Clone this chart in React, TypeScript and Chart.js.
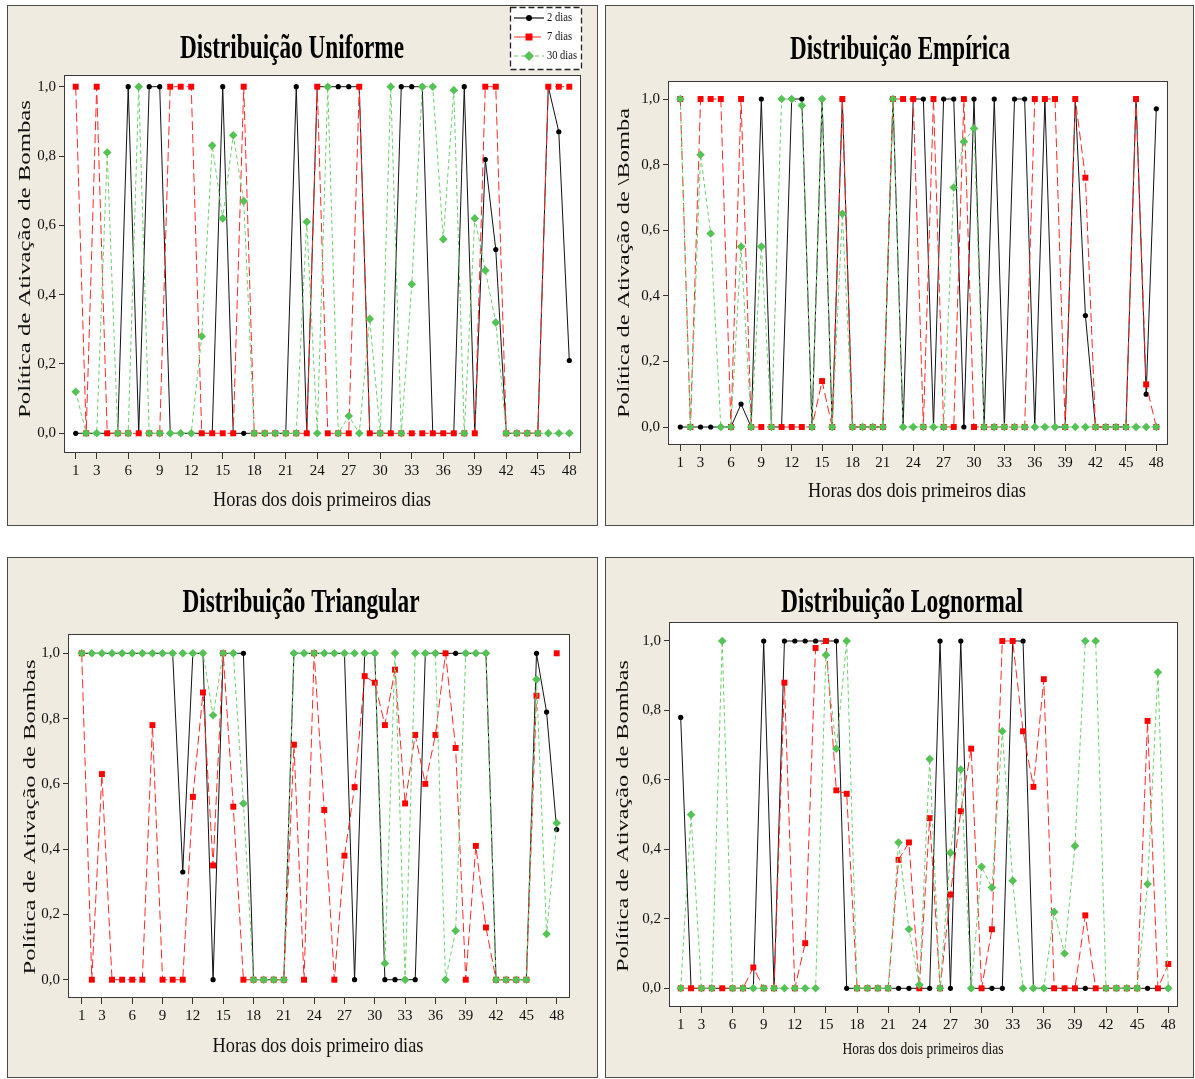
import React, { useEffect, useRef } from 'react';
import { Chart, registerables } from 'chart.js';

Chart.register(...registerables);

// ---------------- DATA ----------------
const hours = [1, 2, 3, 4, 5, 6, 7, 8, 9, 10, 11, 12, 13, 14, 15, 16, 17, 18, 19, 20, 21, 22, 23, 24,
  25, 26, 27, 28, 29, 30, 31, 32, 33, 34, 35, 36, 37, 38, 39, 40, 41, 42, 43, 44, 45, 46, 47, 48];
const xTickValues = [1, 3, 6, 9, 12, 15, 18, 21, 24, 27, 30, 33, 36, 39, 42, 45, 48];
const yTickValues = [0, 0.2, 0.4, 0.6, 0.8, 1.0];
const seriesLabels = ['2 dias', '7 dias', '30 dias'];

// Distribuição Uniforme
const uniforme2 = [0, 0, 0, 0, 0, 1, 0, 1, 1, 0, 0, 0, 0, 0, 1, 0, 0, 0, 0, 0, 0, 1, 0, 1,
  1, 1, 1, 1, 0, 0, 0, 1, 1, 1, 0, 0, 0, 1, 0, 0.79, 0.53, 0, 0, 0, 0, 1, 0.87, 0.21];
const uniforme7 = [1, 0, 1, 0, 0, 0, 0, 0, 0, 1, 1, 1, 0, 0, 0, 0, 1, 0, 0, 0, 0, 0, 0, 1,
  0, 0, 0, 1, 0, 0, 0, 0, 0, 0, 0, 0, 0, 0, 0, 1, 1, 0, 0, 0, 0, 1, 1, 1];
const uniforme30 = [0.12, 0, 0, 0.81, 0, 0, 1, 0, 0, 0, 0, 0, 0.28, 0.83, 0.62, 0.86, 0.67, 0, 0, 0, 0, 0, 0.61, 0,
  1, 0, 0.05, 0, 0.33, 0, 1, 0, 0.43, 1, 1, 0.56, 0.99, 0, 0.62, 0.47, 0.32, 0, 0, 0, 0, 0, 0, 0];

// Distribuição Empírica
const empirica2 = [0, 0, 0, 0, 0, 0, 0.07, 0, 1, 0, 0, 1, 1, 0, 1, 0, 1, 0, 0, 0, 0, 1, 0, 1,
  1, 0, 1, 1, 0, 1, 0, 1, 0, 1, 1, 0, 1, 0, 0, 1, 0.34, 0, 0, 0, 0, 1, 0.1, 0.97];
const empirica7 = [1, 0, 1, 1, 1, 0, 1, 0, 0, 0, 0, 0, 0, 0, 0.14, 0, 1, 0, 0, 0, 0, 1, 1, 1,
  0, 1, 0, 0, 1, 0, 0, 0, 0, 0, 0, 1, 1, 1, 0, 1, 0.76, 0, 0, 0, 0, 1, 0.13, 0];
const empirica30 = [1, 0, 0.83, 0.59, 0, 0, 0.55, 0, 0.55, 0, 1, 1, 0.98, 0, 1, 0, 0.65, 0, 0, 0, 0, 1, 0, 0,
  0, 0, 0, 0.73, 0.87, 0.91, 0, 0, 0, 0, 0, 0, 0, 0, 0, 0, 0, 0, 0, 0, 0, 0, 0, 0];

// Distribuição Triangular
const triangular2 = [1, 1, 1, 1, 1, 1, 1, 1, 1, 1, 0.33, 1, 1, 0, 1, 1, 1, 0, 0, 0, 0, 1, 1, 1,
  1, 1, 1, 0, 1, 1, 0, 0, 0, 0, 1, 1, 1, 1, 1, 1, 1, 0, 0, 0, 0, 1, 0.82, 0.46];
const triangular7 = [1, 0, 0.63, 0, 0, 0, 0, 0.78, 0, 0, 0, 0.56, 0.88, 0.35, 1, 0.53, 0, 0, 0, 0, 0, 0.72, 0, 1,
  0.52, 0, 0.38, 0.59, 0.93, 0.91, 0.78, 0.95, 0.54, 0.75, 0.6, 0.75, 1, 0.71, 0, 0.41, 0.16, 0, 0, 0, 0, 0.87, null, 1];
const triangular30 = [1, 1, 1, 1, 1, 1, 1, 1, 1, 1, 1, 1, 1, 0.81, 1, 1, 0.54, 0, 0, 0, 0, 1, 1, 1,
  1, 1, 1, 1, 1, 1, 0.05, 1, 0, 1, 1, 1, 0, 0.15, 1, 1, 1, 0, 0, 0, 0, 0.92, 0.14, 0.48];

// Distribuição Lognormal
const lognormal2 = [0.78, 0, 0, 0, 0, 0, 0, 0, 1, 0, 1, 1, 1, 1, 1, 1, 0, 0, 0, 0, 0, 0, 0, 0,
  0, 1, 0, 1, 0, 0, 0, 0, 1, 1, 0, 0, 0, 0, 0, 0, 0, 0, 0, 0, 0, 0, 0, 0];
const lognormal7 = [0, 0, 0, 0, 0, 0, 0, 0.06, 0, 0, 0.88, 0, 0.13, 0.98, 1, 0.57, 0.56, 0, 0, 0, 0, 0.37, 0.42, 0,
  0.49, 0, 0.27, 0.51, 0.69, 0, 0.17, 1, 1, 0.74, 0.58, 0.89, 0, 0, 0, 0.21, 0, 0, 0, 0, 0, 0.77, 0, 0.07];
const lognormal30 = [0, 0.5, 0, 0, 1, 0, 0, 0, 0, 0, 0, 0, 0, 0, 0.96, 0.69, 1, 0, 0, 0, 0, 0.42, 0.17, 0.01,
  0.66, 0, 0.39, 0.63, 0, 0.35, 0.29, 0.74, 0.31, 0, 0, 0, 0.22, 0.1, 0.41, 1, 1, 0, 0, 0, 0, 0.3, 0.91, 0];

// ---------------- LAYOUT / STYLE ----------------
const BG = '#efebe1';
const SERIF = "'Liberation Serif', 'Times New Roman', serif";

const panels = [
  {
    title: 'Distribuição Uniforme',
    xTitle: 'Horas dos dois primeiros dias',
    yTitle: 'Política de Ativação de Bombas',
    series: [uniforme2, uniforme7, uniforme30],
    box: { x: 7, y: 5, w: 591, h: 521 },
    plot: { l: 64, t: 75, r: 581, b: 453 },
    px: { x1: 75.7, x48: 569.3, y1: 86.7, y0: 433.3 },
    titlePos: { cx: 292, base: 58, w: 224 },
    xTitlePos: { cx: 322, base: 506, w: 218, size: 22 },
    yTitlePos: { cx: 25, cy: 259, len: 318 },
    legend: { x: 510, y: 7, w: 72, h: 63 },
  },
  {
    title: 'Distribuição Empírica',
    xTitle: 'Horas dos dois primeiros dias',
    yTitle: 'Política de Ativação de \\Bomba',
    series: [empirica2, empirica7, empirica30],
    box: { x: 605, y: 5, w: 589, h: 521 },
    plot: { l: 668, t: 81, r: 1168, b: 445 },
    px: { x1: 680.3, x48: 1156.3, y1: 99, y0: 427 },
    titlePos: { cx: 900, base: 59, w: 220 },
    xTitlePos: { cx: 917, base: 497, w: 218, size: 22 },
    yTitlePos: { cx: 624, cy: 263, len: 310 },
    legend: null,
  },
  {
    title: 'Distribuição Triangular',
    xTitle: 'Horas dos dois primeiro dias',
    yTitle: 'Política de Ativação de Bombas',
    series: [triangular2, triangular7, triangular30],
    box: { x: 7, y: 557, w: 591, h: 521 },
    plot: { l: 68, t: 634, r: 570, b: 998 },
    px: { x1: 81.7, x48: 556.7, y1: 653.3, y0: 979.7 },
    titlePos: { cx: 301, base: 612, w: 237 },
    xTitlePos: { cx: 318, base: 1052, w: 211, size: 22 },
    yTitlePos: { cx: 30, cy: 817, len: 315 },
    legend: null,
  },
  {
    title: 'Distribuição Lognormal',
    xTitle: 'Horas dos dois primeiros dias',
    yTitle: 'Política de Ativação de Bombas',
    series: [lognormal2, lognormal7, lognormal30],
    box: { x: 605, y: 557, w: 589, h: 521 },
    plot: { l: 669, t: 622, r: 1178, b: 1007 },
    px: { x1: 680.7, x48: 1168.3, y1: 641, y0: 988.3 },
    titlePos: { cx: 902, base: 612, w: 242 },
    xTitlePos: { cx: 923, base: 1054, w: 161, size: 16 },
    yTitlePos: { cx: 623, cy: 816, len: 312 },
    legend: null,
  },
];

const seriesStyles = [
  { color: '#000000', line: '#111111', dash: [], pointStyle: 'circle', radius: 2.6, order: 2 },
  { color: '#ff0000', line: '#ff2a2a', dash: [9, 4], pointStyle: 'rect', radius: 4.2, order: 1 },
  { color: '#55c255', line: '#6fcf6f', dash: [4, 3], pointStyle: 'rectRot', radius: 4.3, order: 0 },
];

function fitText(ctx, text, font, x, y, targetW, rotation, squeeze, align, baseline) {
  ctx.save();
  ctx.font = font;
  const w = ctx.measureText(text).width;
  ctx.translate(x, y);
  if (rotation) ctx.rotate(rotation);
  ctx.scale(targetW / w, squeeze);
  ctx.textAlign = align;
  ctx.textBaseline = baseline;
  ctx.fillText(text, 0, 0);
  ctx.restore();
}

function decoPlugin(cfg) {
  const ox = cfg.box.x;
  const oy = cfg.box.y;
  return {
    id: 'panelDeco',
    beforeDraw(chart) {
      const { ctx, width, height, chartArea: a } = chart;
      ctx.save();
      ctx.fillStyle = BG;
      ctx.fillRect(0, 0, width, height);
      ctx.strokeStyle = '#4a4a4a';
      ctx.lineWidth = 1;
      ctx.strokeRect(0.5, 0.5, width - 1, height - 1);
      ctx.fillStyle = '#ffffff';
      ctx.fillRect(a.left, a.top, a.right - a.left, a.bottom - a.top);
      ctx.restore();
    },
    afterDatasetsDraw(chart) {
      const { ctx, chartArea: a } = chart;
      ctx.save();
      ctx.strokeStyle = '#3a3a3a';
      ctx.lineWidth = 1;
      ctx.strokeRect(Math.round(a.left) + 0.5, Math.round(a.top) + 0.5,
        Math.round(a.right - a.left) - 1, Math.round(a.bottom - a.top) - 1);
      ctx.restore();
    },
    afterDraw(chart) {
      const { ctx } = chart;
      ctx.save();
      ctx.fillStyle = '#000';
      // main title (bold, condensed)
      fitText(ctx, cfg.title, `bold 33px ${SERIF}`, cfg.titlePos.cx - ox, cfg.titlePos.base - oy,
        cfg.titlePos.w, 0, 1, 'center', 'alphabetic');
      // x axis title
      ctx.fillStyle = '#111';
      fitText(ctx, cfg.xTitle, `${cfg.xTitlePos.size}px ${SERIF}`, cfg.xTitlePos.cx - ox, cfg.xTitlePos.base - oy,
        cfg.xTitlePos.w, 0, 1, 'center', 'alphabetic');
      // y axis title (rotated)
      fitText(ctx, cfg.yTitle, `24px ${SERIF}`, cfg.yTitlePos.cx - ox, cfg.yTitlePos.cy - oy,
        cfg.yTitlePos.len, -Math.PI / 2, 0.72, 'center', 'middle');
      ctx.restore();

      if (cfg.legend) {
        const L = cfg.legend;
        const lx = L.x - ox;
        const ly = L.y - oy;
        ctx.save();
        ctx.fillStyle = '#ffffff';
        ctx.fillRect(lx, ly, L.w, L.h);
        ctx.strokeStyle = '#222';
        ctx.lineWidth = 1.3;
        ctx.setLineDash([6, 3]);
        ctx.strokeRect(lx + 0.5, ly + 0.5, L.w - 1, L.h - 1);
        const textW = [25, 25, 30];
        seriesLabels.forEach((label, i) => {
          const st = seriesStyles[i];
          const yy = ly + 11 + i * 19;
          ctx.setLineDash(st.dash.length ? (i === 1 ? [12, 3] : [4, 3]) : []);
          ctx.strokeStyle = st.line;
          ctx.lineWidth = 1.2;
          ctx.beginPath();
          ctx.moveTo(lx + 4, yy);
          ctx.lineTo(lx + 34, yy);
          ctx.stroke();
          ctx.setLineDash([]);
          ctx.fillStyle = st.color;
          const mx = lx + 19;
          ctx.beginPath();
          if (st.pointStyle === 'circle') {
            ctx.arc(mx, yy, 3, 0, Math.PI * 2);
          } else if (st.pointStyle === 'rect') {
            ctx.rect(mx - 3.5, yy - 3.5, 7, 7);
          } else {
            ctx.moveTo(mx, yy - 5);
            ctx.lineTo(mx + 5, yy);
            ctx.lineTo(mx, yy + 5);
            ctx.lineTo(mx - 5, yy);
            ctx.closePath();
          }
          ctx.fill();
          ctx.fillStyle = '#111';
          fitText(ctx, label, `12px ${SERIF}`, lx + 37, yy, textW[i], 0, 1, 'left', 'middle');
        });
        ctx.restore();
      }
    },
  };
}

function Panel({ cfg }) {
  const ref = useRef(null);
  useEffect(() => {
    const canvas = ref.current;
    const { box, plot, px } = cfg;
    const ppuX = (px.x48 - px.x1) / 47;
    const xMin = 1 - (px.x1 - plot.l) / ppuX;
    const xMax = 48 + (plot.r - px.x48) / ppuX;
    const ppuY = px.y0 - px.y1;
    const yMax = 1 + (px.y1 - plot.t) / ppuY;
    const yMin = -(plot.b - px.y0) / ppuY;
    const padTop = plot.t - box.y;
    const padRight = box.x + box.w - plot.r;
    const yAxisW = plot.l - box.x;
    const xAxisH = box.y + box.h - plot.b;

    const datasets = cfg.series.map((arr, i) => {
      const st = seriesStyles[i];
      return {
        label: seriesLabels[i],
        data: hours.map((h, k) => ({ x: h, y: arr[k] })),
        borderColor: st.line,
        borderWidth: 1,
        borderDash: st.dash,
        backgroundColor: st.color,
        pointBackgroundColor: st.color,
        pointBorderColor: st.color,
        pointBorderWidth: 0,
        pointStyle: st.pointStyle,
        pointRadius: st.radius,
        tension: 0,
        fill: false,
        spanGaps: false,
        order: st.order,
      };
    });

    const tickFont = { family: SERIF, size: 15 };
    const chart = new Chart(canvas, {
      type: 'line',
      data: { datasets },
      options: {
        responsive: false,
        animation: false,
        devicePixelRatio: 1,
        events: [],
        layout: { padding: { left: 0, top: padTop, right: padRight, bottom: 0 } },
        plugins: {
          legend: { display: false },
          tooltip: { enabled: false },
          title: { display: false },
        },
        scales: {
          x: {
            type: 'linear',
            min: xMin,
            max: xMax,
            afterBuildTicks: (s) => { s.ticks = xTickValues.map((v) => ({ value: v })); },
            afterFit: (s) => { s.height = xAxisH; },
            ticks: {
              autoSkip: false, maxRotation: 0, minRotation: 0, padding: 3,
              color: '#111', font: tickFont,
              callback: (v) => String(v),
            },
            grid: { drawOnChartArea: false, drawTicks: true, tickLength: 6, color: '#333' },
            border: { display: false },
          },
          y: {
            type: 'linear',
            min: yMin,
            max: yMax,
            afterBuildTicks: (s) => { s.ticks = yTickValues.map((v) => ({ value: v })); },
            afterFit: (s) => { s.width = yAxisW; },
            ticks: {
              padding: 3, color: '#111', font: tickFont,
              callback: (v) => Number(v).toFixed(1).replace('.', ','),
            },
            grid: { drawOnChartArea: false, drawTicks: true, tickLength: 5, color: '#333' },
            border: { display: false },
          },
        },
      },
      plugins: [decoPlugin(cfg)],
    });
    return () => chart.destroy();
  }, [cfg]);

  return (
    <canvas
      ref={ref}
      width={cfg.box.w}
      height={cfg.box.h}
      style={{ position: 'absolute', left: cfg.box.x, top: cfg.box.y, width: cfg.box.w, height: cfg.box.h }}
    />
  );
}

export default function App() {
  return (
    <div style={{ position: 'absolute', left: 0, top: 0, width: 1195, height: 1079, background: '#ffffff', overflow: 'hidden' }}>
      {panels.map((p, i) => (
        <Panel key={i} cfg={p} />
      ))}
    </div>
  );
}
